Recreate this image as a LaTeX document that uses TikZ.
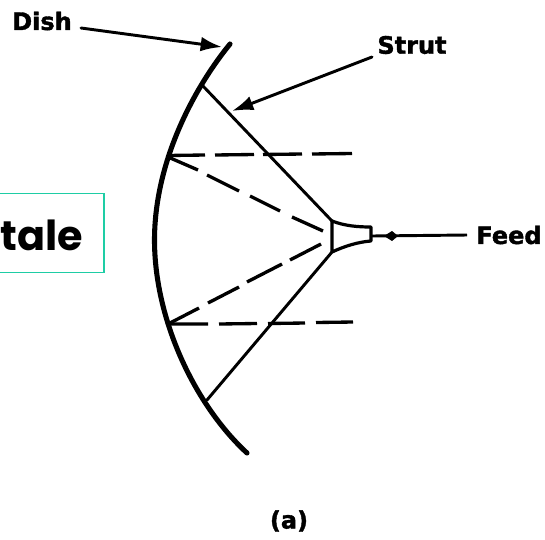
\documentclass[tikz,border=0pt]{standalone}
\usepackage{fontspec}
\setmainfont{DejaVu Sans}[BoldFeatures={FakeBold=1.6}]
\newfontfamily\talefont{Poppins}
\definecolor{boxgreen}{RGB}{30,205,165}
\usetikzlibrary{arrows.meta}
\tikzset{
 every picture/.style={x=0.75pt,y=-0.75pt},
 dishline/.style={line width=3.8pt,line cap=round},
 strutline/.style={line width=2.2pt,line cap=round},
 beam/.style={line width=2.5pt,line cap=butt},
 pointer/.style={line width=2.2pt,line cap=round,-{Latex[length=16pt,width=11pt]}},
 lab/.style={font=\bfseries\fontsize{18}{20}\selectfont,text=black,inner sep=0pt}
}
\begin{document}
\begin{tikzpicture}
\useasboundingbox (0,0) rectangle (545,539);
\clip (0,0) rectangle (545,539);
% text box
\draw[boxgreen,line width=1.1pt] (-5,193.5) rectangle (104,272.5);
\node[anchor=base east,inner sep=0pt,font=\talefont\fontsize{31}{34}\selectfont\bfseries] (tale) at (83,250) {tale};
% dish
\draw[dishline] (230,44) .. controls (191,92) and (154.5,165) .. (154.5,240)
  .. controls (154.5,320) and (195,405) .. (247,453);
% coordinates
\coordinate (strutTop) at (202,85);
\coordinate (strutBot) at (207,400);
\coordinate (feedA) at (332,221);
\coordinate (feedB) at (332,252);
\coordinate (feedC) at (371,227);
\coordinate (feedD) at (371,241);
% struts
\draw[strutline] (strutTop) -- (feedA);
\draw[strutline] (strutBot) -- (feedB);
% feed horn
\draw[line width=2.4pt,line join=round] (feedA) -- (feedB) .. controls (345,246) and (358,242) .. (feedD) -- (feedC) .. controls (358,227) and (345,226) .. cycle;
% beams
\draw[beam] (168,155.5) -- (205,155) (215,155) -- (254,154.5) (263,154.5) -- (302,154) (312,154) -- (352,153.5);
\draw[beam] (170,324) -- (208,324) (219,324) -- (257,323.5) (268,323.5) -- (305,323) (316,322.5) -- (353,322);
\draw[beam] (168,157) -- (198,170) (207,175) -- (239,191) (250,196) -- (280,211) (292,217) -- (323,231);
\draw[beam] (170,323) -- (199,308) (208,303) -- (239,287) (247,282) -- (282,264) (290,260) -- (321,244);
% labels
\node[lab] (dish) at (42,21) {Dish};
\node[lab] (strut) at (412,45) {Strut};
\node[lab] (feed) at (509,235) {Feed};
\node[lab] (cap) at (289,521) {(a)};
% pointers
\coordinate (dishStart) at (81,28);
\coordinate (dishTip) at (222,47);
\coordinate (strutStart) at (372,57);
\coordinate (strutTip) at (232,111);
\coordinate (feedStart) at (467,235);
\coordinate (feedEnd) at (372,236);
\draw[pointer] (dishStart) -- (dishTip);
\draw[pointer] (strutStart) -- (strutTip);
\draw[line width=2.2pt] (feedStart) -- (feedEnd);
\fill (384,236) -- (392,231) -- (398,236) -- (392,241) -- cycle;
\end{tikzpicture}
\end{document}
